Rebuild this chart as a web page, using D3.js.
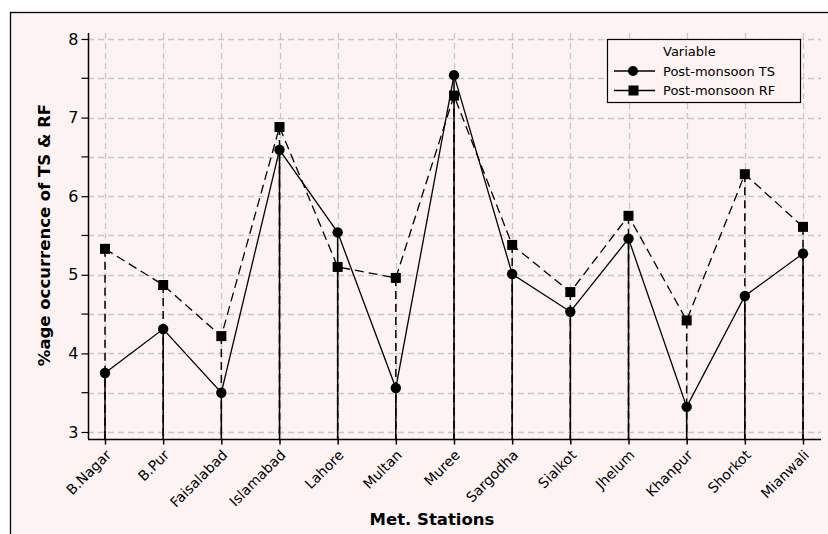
<!DOCTYPE html>
<html>
<head>
<meta charset="utf-8">
<script src="https://cdn.jsdelivr.net/npm/d3@7"></script>
<style>
  html, body { margin: 0; padding: 0; background: #ffffff; }
  svg { display: block; }
  text { font-family: "DejaVu Sans", Verdana, sans-serif; fill: #000; }
</style>
</head>
<body>
<svg id="chart" width="828" height="534"></svg>
<script>
// Met. stations and post-monsoon occurrence (%) of thunderstorms (TS) and rainfall (RF)
const stations = ["B.Nagar", "B.Pur", "Faisalabad", "Islamabad", "Lahore", "Multan",
                  "Muree", "Sargodha", "Sialkot", "Jhelum", "Khanpur", "Shorkot", "Mianwali"];
const postMonsoonTS = [3.75, 4.31, 3.50, 6.59, 5.54, 3.56, 7.54, 5.01, 4.53, 5.46, 3.32, 4.73, 5.27];
const postMonsoonRF = [5.33, 4.87, 4.22, 6.88, 5.10, 4.96, 7.28, 5.38, 4.78, 5.75, 4.42, 6.28, 5.61];
const yMajorTicks = [3, 4, 5, 6, 7, 8];
const yMinorTicks = [3.5, 4.5, 5.5, 6.5, 7.5];
const seriesNames = ["Post-monsoon TS", "Post-monsoon RF"];

const svg = d3.select("#chart");

// outer frame (runs off the right and bottom edges)
svg.append("rect")
  .attr("x", 10.5).attr("y", 12.5)
  .attr("width", 830).attr("height", 540)
  .attr("fill", "#fdf3f3")
  .attr("stroke", "#000").attr("stroke-width", 1.3);

const plot = { left: 88, right: 821, top: 33, bottom: 439 };

const x = d3.scalePoint()
  .domain(stations)
  .range([105, 803]);

const y = d3.scaleLinear()
  .domain([2.911, 8.076])
  .range([plot.bottom, plot.top]);

const grid = svg.append("g")
  .attr("stroke", "#c8c8c8")
  .attr("stroke-width", 1.3)
  .attr("stroke-dasharray", "6,4");

// horizontal grid at major and minor ticks
grid.selectAll("line.h")
  .data(yMajorTicks.concat(yMinorTicks))
  .join("line")
  .attr("class", "h")
  .attr("x1", plot.left).attr("x2", plot.right)
  .attr("y1", d => Math.round(y(d)) + 0.5)
  .attr("y2", d => Math.round(y(d)) + 0.5);

// vertical grid at each station
grid.selectAll("line.v")
  .data(stations)
  .join("line")
  .attr("class", "v")
  .attr("x1", d => Math.round(x(d)) + 0.5)
  .attr("x2", d => Math.round(x(d)) + 0.5)
  .attr("y1", plot.top).attr("y2", plot.bottom);

// projection lines down to the axis
const proj = svg.append("g").attr("stroke", "#000").attr("stroke-width", 1.5);
proj.selectAll("line.rf")
  .data(stations)
  .join("line")
  .attr("class", "rf")
  .attr("x1", d => x(d)).attr("x2", d => x(d))
  .attr("y1", (d, i) => y(postMonsoonRF[i]))
  .attr("y2", plot.bottom)
  .attr("stroke-dasharray", "8,5");
proj.selectAll("line.ts")
  .data(stations)
  .join("line")
  .attr("class", "ts")
  .attr("x1", d => x(d)).attr("x2", d => x(d))
  .attr("y1", (d, i) => y(postMonsoonTS[i]))
  .attr("y2", plot.bottom);

// connecting lines
const line = d3.line()
  .x(d => x(d.s))
  .y(d => y(d.v));

svg.append("path")
  .datum(stations.map((s, i) => ({ s, v: postMonsoonRF[i] })))
  .attr("d", line)
  .attr("fill", "none")
  .attr("stroke", "#000")
  .attr("stroke-width", 1.3)
  .attr("stroke-dasharray", "9,5");

svg.append("path")
  .datum(stations.map((s, i) => ({ s, v: postMonsoonTS[i] })))
  .attr("d", line)
  .attr("fill", "none")
  .attr("stroke", "#000")
  .attr("stroke-width", 1.3);

// markers
const sq = 10;
svg.append("g").selectAll("rect")
  .data(stations)
  .join("rect")
  .attr("x", d => x(d) - sq / 2)
  .attr("y", (d, i) => y(postMonsoonRF[i]) - sq / 2)
  .attr("width", sq).attr("height", sq)
  .attr("fill", "#000");

svg.append("g").selectAll("circle")
  .data(stations)
  .join("circle")
  .attr("cx", d => x(d))
  .attr("cy", (d, i) => y(postMonsoonTS[i]))
  .attr("r", 5.2)
  .attr("fill", "#000");

// y axis
const yAxis = svg.append("g")
  .attr("transform", `translate(${plot.left + 0.5},0)`)
  .call(d3.axisLeft(y).tickValues(yMajorTicks).tickFormat(d3.format("d")).tickSize(7).tickPadding(3));
yAxis.append("g").selectAll("line")
  .data(yMinorTicks)
  .join("line")
  .attr("x1", -7).attr("x2", 0)
  .attr("y1", d => y(d)).attr("y2", d => y(d))
  .attr("stroke", "#000").attr("stroke-width", 1.2);
yAxis.select(".domain").attr("d", `M0,${plot.top}V${plot.bottom}`).attr("stroke-width", 1.5);
yAxis.selectAll(".tick line").attr("stroke-width", 1.2);
yAxis.selectAll(".tick text")
  .style("font-family", "'DejaVu Sans', sans-serif")
  .style("font-size", "16px")
  .attr("fill", "#000");

// x axis with rotated station names
const xAxis = svg.append("g")
  .attr("transform", `translate(0,${plot.bottom + 0.5})`)
  .call(d3.axisBottom(x).tickSize(5).tickPadding(4));
xAxis.select(".domain").attr("d", `M${plot.left},0H${plot.right}`).attr("stroke-width", 1.5);
xAxis.selectAll(".tick line").attr("stroke-width", 1.5);
xAxis.selectAll(".tick text")
  .style("font-family", "'DejaVu Sans', sans-serif")
  .style("font-size", "14px")
  .attr("fill", "#000")
  .attr("text-anchor", "end")
  .attr("x", 0).attr("y", 0)
  .attr("dy", "0.35em")
  .attr("transform", "translate(3,13) rotate(-45)");

// axis titles
svg.append("text")
  .attr("x", 432).attr("y", 525)
  .attr("text-anchor", "middle")
  .style("font-size", "16.5px")
  .style("font-weight", "bold")
  .text("Met. Stations");

svg.append("text")
  .attr("transform", "translate(50,235) rotate(-90)")
  .attr("text-anchor", "middle")
  .style("font-size", "16.5px")
  .style("font-weight", "bold")
  .text("%age occurrence of TS & RF");

// legend
const legend = svg.append("g").attr("transform", "translate(607,39)");
legend.append("rect")
  .attr("x", 0.5).attr("y", 0.5)
  .attr("width", 193).attr("height", 63)
  .attr("fill", "#fdf3f3")
  .attr("stroke", "#000").attr("stroke-width", 1.2);
legend.append("text")
  .attr("x", 56).attr("y", 17)
  .style("font-size", "13px")
  .text("Variable");
const rows = legend.selectAll("g.row")
  .data(seriesNames)
  .join("g")
  .attr("class", "row")
  .attr("transform", (d, i) => `translate(0,${32 + i * 19.5})`);
rows.append("line")
  .attr("x1", 7).attr("x2", 48)
  .attr("stroke", "#000").attr("stroke-width", 1.3);
rows.filter((d, i) => i === 0).append("circle")
  .attr("cx", 26).attr("r", 5).attr("fill", "#000");
rows.filter((d, i) => i === 1).append("rect")
  .attr("x", 21.5).attr("y", -5).attr("width", 10).attr("height", 10).attr("fill", "#000");
rows.append("text")
  .attr("x", 56).attr("dy", "0.35em")
  .style("font-size", "13px")
  .text(d => d);
</script>
</body>
</html>
